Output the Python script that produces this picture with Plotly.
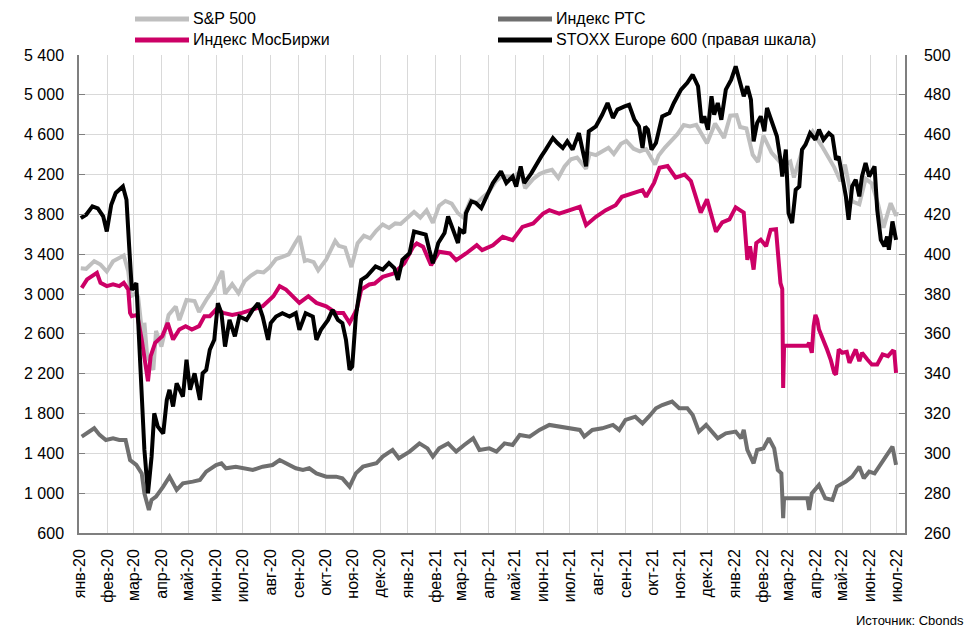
import plotly.graph_objects as go

# ---------------- data ----------------
month_ticks = ["2020-01-01", "2020-02-01", "2020-03-01", "2020-04-01", "2020-05-01", "2020-06-01",
               "2020-07-01", "2020-08-01", "2020-09-01", "2020-10-01", "2020-11-01", "2020-12-01",
               "2021-01-01", "2021-02-01", "2021-03-01", "2021-04-01", "2021-05-01", "2021-06-01",
               "2021-07-01", "2021-08-01", "2021-09-01", "2021-10-01", "2021-11-01", "2021-12-01",
               "2022-01-01", "2022-02-01", "2022-03-01", "2022-04-01", "2022-05-01", "2022-06-01",
               "2022-07-01"]
month_labels = ["янв-20", "фев-20", "мар-20", "апр-20", "май-20", "июн-20", "июл-20", "авг-20",
                "сен-20", "окт-20", "ноя-20", "дек-20", "янв-21", "фев-21", "мар-21", "апр-21",
                "май-21", "июн-21", "июл-21", "авг-21", "сен-21", "окт-21", "ноя-21", "дек-21",
                "янв-22", "фев-22", "мар-22", "апр-22", "май-22", "июн-22", "июл-22"]

sp500 = [
    ("2020-01-02", 3258), ("2020-01-08", 3253), ("2020-01-17", 3330), ("2020-01-24", 3295),
    ("2020-01-31", 3226), ("2020-02-07", 3328), ("2020-02-19", 3386), ("2020-02-24", 3226),
    ("2020-02-27", 2979), ("2020-03-03", 3003), ("2020-03-06", 2972), ("2020-03-09", 2747),
    ("2020-03-12", 2481), ("2020-03-13", 2711), ("2020-03-16", 2386), ("2020-03-20", 2305),
    ("2020-03-23", 2237), ("2020-03-26", 2630), ("2020-04-01", 2471), ("2020-04-09", 2790),
    ("2020-04-17", 2875), ("2020-04-21", 2737), ("2020-04-29", 2940), ("2020-05-08", 2930),
    ("2020-05-13", 2820), ("2020-05-22", 2955), ("2020-05-29", 3044), ("2020-06-08", 3232),
    ("2020-06-11", 3002), ("2020-06-19", 3098), ("2020-06-26", 3009), ("2020-07-03", 3130),
    ("2020-07-10", 3185), ("2020-07-17", 3225), ("2020-07-24", 3216), ("2020-07-31", 3271),
    ("2020-08-07", 3351), ("2020-08-14", 3373), ("2020-08-21", 3397), ("2020-08-28", 3508),
    ("2020-09-02", 3580), ("2020-09-08", 3332), ("2020-09-11", 3341), ("2020-09-18", 3319),
    ("2020-09-23", 3237), ("2020-10-02", 3348), ("2020-10-12", 3534), ("2020-10-16", 3484),
    ("2020-10-23", 3465), ("2020-10-30", 3270), ("2020-11-06", 3509), ("2020-11-13", 3585),
    ("2020-11-20", 3558), ("2020-11-27", 3638), ("2020-12-04", 3699), ("2020-12-11", 3663),
    ("2020-12-18", 3709), ("2020-12-24", 3703), ("2020-12-31", 3756), ("2021-01-08", 3825),
    ("2021-01-15", 3768), ("2021-01-22", 3841), ("2021-01-29", 3714), ("2021-02-05", 3887),
    ("2021-02-12", 3934), ("2021-02-19", 3907), ("2021-02-26", 3811), ("2021-03-04", 3768),
    ("2021-03-12", 3943), ("2021-03-19", 3913), ("2021-03-26", 3975), ("2021-04-01", 4020),
    ("2021-04-09", 4129), ("2021-04-16", 4185), ("2021-04-23", 4180), ("2021-04-30", 4181),
    ("2021-05-07", 4233), ("2021-05-12", 4063), ("2021-05-21", 4156), ("2021-05-28", 4204),
    ("2021-06-04", 4230), ("2021-06-11", 4247), ("2021-06-18", 4166), ("2021-06-25", 4281),
    ("2021-07-02", 4352), ("2021-07-09", 4370), ("2021-07-19", 4258), ("2021-07-23", 4412),
    ("2021-07-30", 4395), ("2021-08-06", 4437), ("2021-08-13", 4468), ("2021-08-19", 4406),
    ("2021-08-27", 4509), ("2021-09-02", 4537), ("2021-09-10", 4459), ("2021-09-17", 4433),
    ("2021-09-24", 4455), ("2021-10-04", 4300), ("2021-10-08", 4391), ("2021-10-15", 4471),
    ("2021-10-22", 4545), ("2021-10-29", 4605), ("2021-11-05", 4697), ("2021-11-12", 4683),
    ("2021-11-19", 4698), ("2021-11-26", 4595), ("2021-12-01", 4513), ("2021-12-10", 4712),
    ("2021-12-17", 4620), ("2021-12-20", 4568), ("2021-12-27", 4791), ("2022-01-03", 4796),
    ("2022-01-07", 4677), ("2022-01-14", 4662), ("2022-01-21", 4398), ("2022-01-27", 4326),
    ("2022-02-02", 4589), ("2022-02-11", 4419), ("2022-02-18", 4349), ("2022-02-24", 4288),
    ("2022-03-04", 4329), ("2022-03-08", 4170), ("2022-03-18", 4463), ("2022-03-29", 4631),
    ("2022-04-08", 4488), ("2022-04-14", 4393), ("2022-04-22", 4272), ("2022-04-29", 4132),
    ("2022-05-04", 4300), ("2022-05-12", 3930), ("2022-05-20", 3901), ("2022-05-27", 4158),
    ("2022-06-03", 4109), ("2022-06-10", 3901), ("2022-06-16", 3666), ("2022-06-24", 3912),
    ("2022-06-30", 3785), ("2022-07-01", 3825),
]

moex = [
    ("2020-01-03", 3062), ("2020-01-09", 3146), ("2020-01-20", 3213), ("2020-01-24", 3112),
    ("2020-01-31", 3079), ("2020-02-07", 3096), ("2020-02-14", 3079), ("2020-02-19", 3112),
    ("2020-02-24", 3045), ("2020-02-26", 2810), ("2020-02-28", 2777), ("2020-03-05", 2790),
    ("2020-03-10", 2543), ("2020-03-13", 2342), ("2020-03-17", 2124), ("2020-03-20", 2375),
    ("2020-03-25", 2510), ("2020-04-02", 2577), ("2020-04-08", 2710), ("2020-04-14", 2543),
    ("2020-04-21", 2643), ("2020-04-28", 2677), ("2020-05-05", 2643), ("2020-05-13", 2677),
    ("2020-05-19", 2777), ("2020-05-25", 2777), ("2020-06-01", 2844), ("2020-06-09", 2810),
    ("2020-06-19", 2790), ("2020-06-30", 2810), ("2020-07-11", 2844), ("2020-07-23", 2877),
    ("2020-08-04", 2978), ("2020-08-11", 3079), ("2020-08-18", 3045), ("2020-08-26", 2978),
    ("2020-09-02", 2911), ("2020-09-12", 2978), ("2020-09-21", 2911), ("2020-10-02", 2877),
    ("2020-10-13", 2810), ("2020-10-21", 2810), ("2020-10-28", 2710), ("2020-11-05", 2844),
    ("2020-11-10", 3045), ("2020-11-19", 3096), ("2020-11-25", 3105), ("2020-12-04", 3172),
    ("2020-12-16", 3205), ("2020-12-28", 3306), ("2021-01-07", 3474), ("2021-01-11", 3507),
    ("2021-01-18", 3474), ("2021-01-27", 3290), ("2021-02-05", 3424), ("2021-02-17", 3407),
    ("2021-02-24", 3340), ("2021-03-07", 3407), ("2021-03-19", 3490), ("2021-03-25", 3440),
    ("2021-04-06", 3490), ("2021-04-17", 3574), ("2021-04-28", 3540), ("2021-05-09", 3674),
    ("2021-05-21", 3708), ("2021-06-01", 3808), ("2021-06-08", 3842), ("2021-06-19", 3808),
    ("2021-06-30", 3842), ("2021-07-12", 3875), ("2021-07-19", 3691), ("2021-07-30", 3775),
    ("2021-08-10", 3842), ("2021-08-21", 3892), ("2021-08-28", 3976), ("2021-09-08", 4010),
    ("2021-09-20", 4043), ("2021-09-24", 3976), ("2021-10-03", 4117), ("2021-10-09", 4268),
    ("2021-10-18", 4285), ("2021-10-27", 4168), ("2021-11-06", 4200), ("2021-11-13", 4135),
    ("2021-11-18", 3985), ("2021-11-24", 3818), ("2021-12-01", 3950), ("2021-12-11", 3625),
    ("2021-12-18", 3720), ("2021-12-26", 3750), ("2022-01-02", 3870), ("2022-01-11", 3818),
    ("2022-01-15", 3344), ("2022-01-18", 3480), ("2022-01-22", 3245), ("2022-01-25", 3512),
    ("2022-01-30", 3545), ("2022-02-05", 3479), ("2022-02-10", 3645), ("2022-02-16", 3650),
    ("2022-02-21", 3110), ("2022-02-23", 3050), ("2022-02-24", 2057), ("2022-02-25", 2480),
    ("2022-03-23", 2480), ("2022-03-25", 2510), ("2022-03-28", 2410), ("2022-03-30", 2677),
    ("2022-04-01", 2790), ("2022-04-03", 2744), ("2022-04-05", 2643), ("2022-04-10", 2543),
    ("2022-04-14", 2443), ("2022-04-18", 2342), ("2022-04-22", 2208), ("2022-04-24", 2190),
    ("2022-04-27", 2443), ("2022-05-01", 2410), ("2022-05-06", 2420), ("2022-05-09", 2309),
    ("2022-05-16", 2443), ("2022-05-20", 2325), ("2022-05-23", 2410), ("2022-05-29", 2342),
    ("2022-06-03", 2292), ("2022-06-09", 2292), ("2022-06-15", 2393), ("2022-06-21", 2376),
    ("2022-06-26", 2427), ("2022-06-28", 2420), ("2022-06-30", 2208),
]

rts = [
    ("2020-01-03", 1568), ("2020-01-08", 1601), ("2020-01-17", 1652), ("2020-01-23", 1585),
    ("2020-01-30", 1534), ("2020-02-07", 1551), ("2020-02-14", 1534), ("2020-02-21", 1534),
    ("2020-02-26", 1333), ("2020-03-04", 1283), ("2020-03-10", 1199), ("2020-03-13", 998),
    ("2020-03-18", 831), ("2020-03-21", 932), ("2020-03-26", 965), ("2020-04-03", 1066),
    ("2020-04-10", 1166), ("2020-04-18", 1032), ("2020-04-25", 1099), ("2020-05-06", 1116),
    ("2020-05-14", 1133), ("2020-05-21", 1216), ("2020-06-01", 1283), ("2020-06-07", 1300),
    ("2020-06-12", 1250), ("2020-06-23", 1266), ("2020-07-01", 1250), ("2020-07-12", 1233),
    ("2020-07-23", 1266), ("2020-08-03", 1283), ("2020-08-11", 1333), ("2020-08-22", 1283),
    ("2020-08-29", 1250), ("2020-09-06", 1233), ("2020-09-13", 1250), ("2020-09-21", 1199),
    ("2020-10-02", 1166), ("2020-10-13", 1166), ("2020-10-20", 1149), ("2020-10-28", 1066),
    ("2020-11-04", 1199), ("2020-11-12", 1266), ("2020-11-19", 1283), ("2020-11-27", 1300),
    ("2020-12-04", 1367), ("2020-12-15", 1434), ("2020-12-22", 1350), ("2021-01-03", 1417),
    ("2021-01-14", 1500), ("2021-01-23", 1450), ("2021-01-29", 1367), ("2021-02-05", 1450),
    ("2021-02-15", 1500), ("2021-02-24", 1417), ("2021-03-05", 1484), ("2021-03-15", 1551),
    ("2021-03-22", 1434), ("2021-04-02", 1450), ("2021-04-10", 1417), ("2021-04-19", 1500),
    ("2021-04-28", 1484), ("2021-05-06", 1584), ("2021-05-17", 1568), ("2021-05-28", 1635),
    ("2021-06-08", 1685), ("2021-06-19", 1668), ("2021-06-30", 1651), ("2021-07-12", 1635),
    ("2021-07-17", 1568), ("2021-07-26", 1635), ("2021-08-06", 1651), ("2021-08-18", 1685),
    ("2021-08-25", 1635), ("2021-09-01", 1735), ("2021-09-12", 1768), ("2021-09-20", 1701),
    ("2021-09-27", 1768), ("2021-10-05", 1852), ("2021-10-12", 1885), ("2021-10-23", 1919),
    ("2021-10-31", 1852), ("2021-11-09", 1852), ("2021-11-15", 1785), ("2021-11-22", 1618),
    ("2021-11-30", 1685), ("2021-12-07", 1618), ("2021-12-13", 1551), ("2021-12-22", 1601),
    ("2022-01-02", 1618), ("2022-01-08", 1551), ("2022-01-11", 1635), ("2022-01-15", 1434),
    ("2022-01-22", 1300), ("2022-01-26", 1434), ("2022-02-02", 1450), ("2022-02-08", 1551),
    ("2022-02-14", 1450), ("2022-02-18", 1233), ("2022-02-22", 1199), ("2022-02-24", 750),
    ("2022-02-25", 949), ("2022-03-23", 949), ("2022-03-25", 831), ("2022-03-28", 998),
    ("2022-04-05", 1082), ("2022-04-12", 949), ("2022-04-20", 932), ("2022-04-25", 1066),
    ("2022-05-05", 1116), ("2022-05-12", 1166), ("2022-05-20", 1266), ("2022-05-25", 1149),
    ("2022-05-31", 1216), ("2022-06-06", 1199), ("2022-06-11", 1266), ("2022-06-18", 1367),
    ("2022-06-26", 1467), ("2022-06-30", 1283),
]

stoxx600 = [
    ("2020-01-02", 418.1), ("2020-01-08", 419.8), ("2020-01-15", 424.0), ("2020-01-21", 423.0),
    ("2020-01-27", 419.0), ("2020-01-31", 411.4), ("2020-02-05", 424.8), ("2020-02-10", 430.7),
    ("2020-02-18", 434.0), ("2020-02-22", 427.3), ("2020-02-25", 403.9), ("2020-02-28", 382.0),
    ("2020-03-04", 385.5), ("2020-03-08", 352.0), ("2020-03-10", 335.2), ("2020-03-13", 301.7),
    ("2020-03-17", 279.9), ("2020-03-21", 298.3), ("2020-03-24", 320.1), ("2020-03-28", 313.4),
    ("2020-04-03", 310.0), ("2020-04-07", 326.8), ("2020-04-10", 331.9), ("2020-04-14", 323.5),
    ("2020-04-18", 335.2), ("2020-04-25", 328.5), ("2020-04-29", 347.0), ("2020-05-03", 331.9),
    ("2020-05-08", 340.2), ("2020-05-14", 326.8), ("2020-05-17", 340.2), ("2020-05-21", 341.9),
    ("2020-05-25", 352.0), ("2020-05-30", 357.0), ("2020-06-03", 375.4), ("2020-06-07", 370.4),
    ("2020-06-11", 353.6), ("2020-06-16", 367.0), ("2020-06-22", 358.7), ("2020-06-27", 368.7),
    ("2020-07-05", 367.0), ("2020-07-12", 372.1), ("2020-07-18", 375.4), ("2020-07-23", 368.7),
    ("2020-07-29", 357.0), ("2020-08-01", 365.4), ("2020-08-07", 368.7), ("2020-08-14", 370.4),
    ("2020-08-22", 368.7), ("2020-08-29", 370.4), ("2020-09-02", 362.0), ("2020-09-09", 370.4),
    ("2020-09-17", 368.7), ("2020-09-21", 357.0), ("2020-09-26", 362.0), ("2020-10-04", 367.0),
    ("2020-10-09", 372.0), ("2020-10-15", 367.0), ("2020-10-20", 365.4), ("2020-10-24", 357.0),
    ("2020-10-28", 341.9), ("2020-10-31", 343.6), ("2020-11-04", 368.7), ("2020-11-10", 387.1),
    ("2020-11-16", 388.8), ("2020-11-19", 390.5), ("2020-11-26", 393.8), ("2020-12-04", 392.2),
    ("2020-12-11", 395.5), ("2020-12-17", 393.0), ("2020-12-21", 387.1), ("2020-12-26", 397.2),
    ("2021-01-03", 400.5), ("2021-01-08", 411.4), ("2021-01-14", 410.6), ("2021-01-21", 409.8),
    ("2021-01-25", 402.2), ("2021-01-29", 395.5), ("2021-02-04", 405.6), ("2021-02-11", 410.6),
    ("2021-02-15", 419.0), ("2021-02-20", 412.3), ("2021-02-26", 405.6), ("2021-02-28", 412.3),
    ("2021-03-05", 410.6), ("2021-03-07", 420.6), ("2021-03-13", 426.5), ("2021-03-18", 425.7),
    ("2021-03-24", 423.1), ("2021-03-30", 429.0), ("2021-04-06", 435.7), ("2021-04-15", 441.6),
    ("2021-04-21", 435.7), ("2021-04-28", 439.0), ("2021-05-02", 434.0), ("2021-05-07", 444.1),
    ("2021-05-11", 435.7), ("2021-05-19", 440.7), ("2021-05-24", 444.9), ("2021-05-30", 449.1),
    ("2021-06-04", 452.5), ("2021-06-12", 458.3), ("2021-06-17", 455.8), ("2021-06-23", 453.3),
    ("2021-06-28", 456.6), ("2021-07-04", 452.5), ("2021-07-11", 460.8), ("2021-07-15", 452.5),
    ("2021-07-19", 444.1), ("2021-07-22", 461.7), ("2021-07-30", 464.2), ("2021-08-06", 470.0),
    ("2021-08-12", 475.9), ("2021-08-18", 468.4), ("2021-08-23", 472.6), ("2021-08-31", 474.2),
    ("2021-09-05", 475.0), ("2021-09-11", 467.5), ("2021-09-16", 464.2), ("2021-09-20", 453.3),
    ("2021-09-23", 464.0), ("2021-09-26", 462.5), ("2021-09-30", 452.5), ("2021-10-05", 455.8),
    ("2021-10-12", 469.2), ("2021-10-20", 470.9), ("2021-10-25", 475.9), ("2021-11-02", 482.6),
    ("2021-11-09", 486.0), ("2021-11-15", 490.1), ("2021-11-21", 484.3), ("2021-11-25", 465.9),
    ("2021-11-28", 469.2), ("2021-12-02", 462.5), ("2021-12-06", 479.3), ("2021-12-09", 470.0),
    ("2021-12-13", 475.9), ("2021-12-17", 467.5), ("2021-12-22", 482.6), ("2021-12-28", 487.6),
    ("2022-01-02", 494.3), ("2022-01-07", 486.0), ("2022-01-11", 479.3), ("2022-01-15", 484.3),
    ("2022-01-19", 477.6), ("2022-01-22", 456.6), ("2022-01-26", 465.9), ("2022-01-30", 469.2),
    ("2022-02-03", 461.7), ("2022-02-06", 473.4), ("2022-02-12", 465.9), ("2022-02-17", 459.2),
    ("2022-02-21", 447.4), ("2022-02-23", 439.0), ("2022-02-27", 452.5), ("2022-03-02", 420.6),
    ("2022-03-06", 415.6), ("2022-03-10", 432.4), ("2022-03-14", 434.0), ("2022-03-17", 452.5),
    ("2022-03-21", 455.0), ("2022-03-26", 460.8), ("2022-04-01", 457.5), ("2022-04-05", 462.5),
    ("2022-04-10", 457.5), ("2022-04-16", 460.8), ("2022-04-20", 459.2), ("2022-04-24", 447.4),
    ("2022-04-27", 449.0), ("2022-05-01", 439.0), ("2022-05-05", 429.0), ("2022-05-08", 417.3),
    ("2022-05-12", 434.0), ("2022-05-16", 437.4), ("2022-05-20", 429.0), ("2022-05-23", 439.0),
    ("2022-05-27", 445.8), ("2022-05-31", 439.0), ("2022-06-06", 444.1), ("2022-06-09", 422.3),
    ("2022-06-13", 407.2), ("2022-06-17", 403.9), ("2022-06-20", 408.9), ("2022-06-22", 402.2),
    ("2022-06-26", 416.4), ("2022-06-30", 407.2),
]

series_names = ["S&P 500", "Индекс РТС", "Индекс МосБиржи", "STOXX Europe 600 (правая шкала)"]
series_colors = ["#BFBFBF", "#6F6F6F", "#CC0066", "#000000"]

# ---------------- figure ----------------
W, H = 967, 628
ML, MR, MT, MB = 79, 62, 55, 95
PW, PH = W - ML - MR, H - MT - MB
FONT = "Liberation Sans, Arial, sans-serif"

fig = go.Figure()

def add_line(data, name, color, yaxis="y"):
    fig.add_trace(go.Scatter(
        x=[d for d, _ in data], y=[v for _, v in data], name=name, mode="lines",
        line=dict(color=color, width=4), yaxis=yaxis, showlegend=False,
    ))

add_line(sp500, series_names[0], series_colors[0])
add_line(rts, series_names[1], series_colors[1])
add_line(moex, series_names[2], series_colors[2])
add_line(stoxx600, series_names[3], series_colors[3], yaxis="y2")

# manual legend (two columns, two rows) placed above the plot area
def px_x(px):
    return (px - ML) / PW

def px_y(py):
    return (H - MB - py) / PH

legend_items = [(0, 135, 19), (1, 498, 19), (2, 135, 40), (3, 498, 40)]
shapes = []
annotations = []
for idx, x0, yy in legend_items:
    shapes.append(dict(type="line", xref="paper", yref="paper",
                       x0=px_x(x0), x1=px_x(x0 + 54), y0=px_y(yy), y1=px_y(yy),
                       line=dict(color=series_colors[idx], width=5)))
    annotations.append(dict(xref="paper", yref="paper", x=px_x(x0 + 56), y=px_y(yy),
                            xanchor="left", yanchor="middle", showarrow=False,
                            text=series_names[idx], font=dict(size=16, color="#000000")))

annotations.append(dict(xref="paper", yref="paper", x=px_x(966), y=px_y(620),
                        xanchor="right", yanchor="middle", showarrow=False,
                        text="Источник: Cbonds", font=dict(size=13, color="#000000")))

fig.update_layout(
    width=W, height=H,
    margin=dict(l=ML, r=MR, t=MT, b=MB),
    paper_bgcolor="white", plot_bgcolor="white",
    font=dict(family=FONT, size=16, color="#000000"),
    separators=", ",
    showlegend=False,
    shapes=shapes,
    annotations=annotations,
    xaxis=dict(
        type="date", range=["2019-12-31", "2022-07-10"],
        tickvals=month_ticks, ticktext=month_labels, tickangle=-90,
        showgrid=True, gridcolor="#D9D9D9", gridwidth=1,
        showline=True, linecolor="#7F7F7F", linewidth=1.5,
        ticks="", ticklabelstandoff=8, zeroline=False,
        tickfont=dict(size=16),
    ),
    yaxis=dict(
        range=[600, 5400], dtick=400, tick0=600, tickformat=",d",
        showgrid=True, gridcolor="#D9D9D9", gridwidth=1,
        showline=True, linecolor="#7F7F7F", linewidth=1.5,
        ticks="inside", ticklen=6, tickcolor="#7F7F7F",
        ticklabelstandoff=10, zeroline=False,
        tickfont=dict(size=16),
    ),
    yaxis2=dict(
        range=[260, 500], dtick=20, tick0=260, overlaying="y", side="right",
        showgrid=False,
        showline=True, linecolor="#7F7F7F", linewidth=1.5,
        ticks="inside", ticklen=6, tickcolor="#7F7F7F",
        ticklabelstandoff=14, zeroline=False,
        tickfont=dict(size=16),
    ),
)

fig.write_html("out.html", config={"displayModeBar": False},
               post_script="document.body.style.margin='0';")
